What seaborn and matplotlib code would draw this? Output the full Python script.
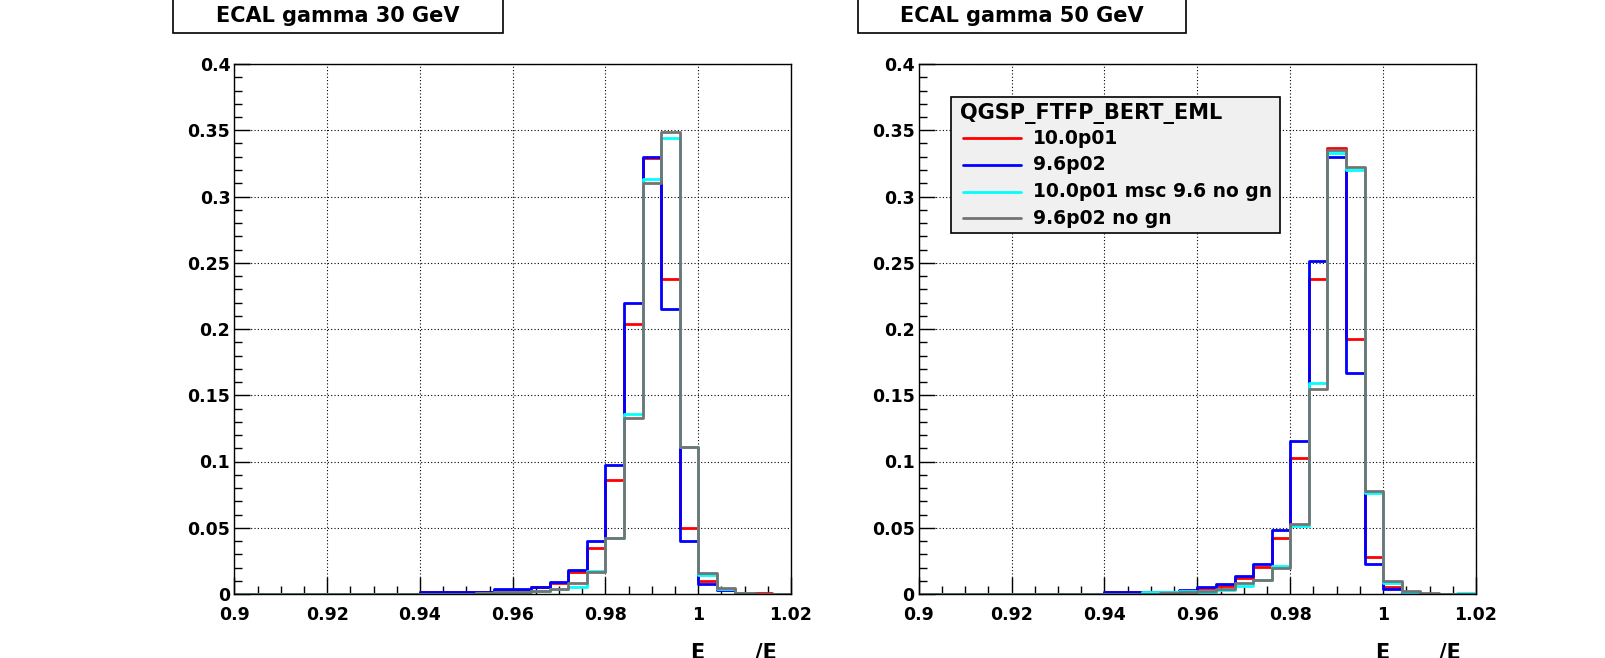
import numpy as np
import pandas as pd
import matplotlib
matplotlib.use("Agg")
import matplotlib.pyplot as plt
import seaborn as sns
from matplotlib.patches import Rectangle
from matplotlib.lines import Line2D
from matplotlib.ticker import MultipleLocator

# ---------------- data ----------------
bin_low, bin_high, n_bins = 0.9, 1.02, 30

series_names = ["10.0p01", "9.6p02", "10.0p01 msc 9.6 no gn", "9.6p02 no gn"]
series_colors = ["#ff0000", "#0000ff", "#00ffff", "#737373"]
legend_header = "QGSP_FTFP_BERT_EML"
panel_titles = ["ECAL gamma 30 GeV", "ECAL gamma 50 GeV"]

# 30 GeV panel
red_30 = [0, 0, 0, 0, 0, 0, 0, 0, 0, 0,
          0.0015, 0.0015, 0.0015, 0.0015, 0.003, 0.003, 0.005, 0.008, 0.0165, 0.035,
          0.086, 0.204, 0.329, 0.238, 0.050, 0.010, 0.003, 0.001, 0.0005, 0]
blue_30 = [0, 0, 0, 0, 0, 0, 0, 0, 0, 0,
           0.0017, 0.0017, 0.0017, 0.0017, 0.0035, 0.0035, 0.0055, 0.009, 0.018, 0.040,
           0.097, 0.220, 0.330, 0.215, 0.040, 0.0075, 0.003, 0.0005, 0, 0]
cyan_30 = [0, 0, 0, 0, 0.0003, 0, 0, 0, 0, 0,
           0, 0, 0, 0.0005, 0.0012, 0.0015, 0.0025, 0.004, 0.0055, 0.017,
           0.042, 0.1356, 0.313, 0.344, 0.111, 0.014, 0.004, 0.001, 0, 0]
gray_30 = [0, 0, 0, 0, 0, 0, 0, 0, 0, 0,
           0, 0, 0, 0.0005, 0.0012, 0.0015, 0.0023, 0.0037, 0.0081, 0.0165,
           0.042, 0.133, 0.310, 0.349, 0.111, 0.016, 0.0045, 0.001, 0, 0]

# 50 GeV panel
red_50 = [0, 0, 0, 0, 0, 0, 0, 0, 0, 0,
          0.0015, 0.0015, 0.0015, 0.0015, 0.0025, 0.0045, 0.006, 0.0118, 0.0206, 0.042,
          0.1025, 0.238, 0.3366, 0.1925, 0.0278, 0.0053, 0.0012, 0, 0, 0]
blue_50 = [0.0003, 0, 0, 0, 0, 0, 0, 0, 0, 0,
           0.0018, 0.0018, 0.0018, 0.0018, 0.003, 0.0055, 0.0073, 0.0136, 0.0224, 0.0486,
           0.1155, 0.2514, 0.330, 0.167, 0.023, 0.004, 0.001, 0, 0, 0]
cyan_50 = [0, 0, 0, 0, 0, 0, 0, 0, 0, 0,
           0, 0, 0.0012, 0.0012, 0.002, 0.001, 0.003, 0.006, 0.0106, 0.0214,
           0.0516, 0.159, 0.333, 0.320, 0.076, 0.0085, 0.0015, 0, 0, 0.0005]
gray_50 = [0, 0, 0, 0, 0, 0, 0, 0, 0, 0,
           0, 0, 0, 0.0008, 0.0015, 0.0025, 0.004, 0.0085, 0.0106, 0.020,
           0.053, 0.155, 0.3353, 0.322, 0.078, 0.0098, 0.002, 0.001, 0, 0]

x_ticks = [0.9, 0.92, 0.94, 0.96, 0.98, 1.0, 1.02]
x_tick_labels = ["0.9", "0.92", "0.94", "0.96", "0.98", "1", "1.02"]
y_ticks = [0, 0.05, 0.1, 0.15, 0.2, 0.25, 0.3, 0.35, 0.4]
y_tick_labels = ["0", "0.05", "0.1", "0.15", "0.2", "0.25", "0.3", "0.35", "0.4"]
x_label_parts = ["E", "/E"]   # only the upper part of the axis title is visible

# ---------------- style ----------------
sns.set_theme(style="white")
plt.rcParams["font.family"] = ["DejaVu Sans"]
plt.rcParams["font.weight"] = "bold"
for key in ["text.color", "axes.labelcolor", "xtick.color", "ytick.color", "axes.edgecolor"]:
    plt.rcParams[key] = "black"

W, H = 1606, 658
fig = plt.figure(figsize=(W / 100, H / 100), dpi=100)
fig.patch.set_facecolor("white")


def fx(p):
    return p / W


def fy(p):
    return 1 - p / H


ax_top, ax_bot = 64, 594
axL = fig.add_axes([fx(234.5), fy(ax_bot), (791 - 234.5) / W, (ax_bot - ax_top) / H])
axR = fig.add_axes([fx(918.7), fy(ax_bot), (1476 - 918.7) / W, (ax_bot - ax_top) / H])

edges = np.linspace(bin_low, bin_high, n_bins + 1)

panels = [
    (axL, [red_30, blue_30, cyan_30, gray_30]),
    (axR, [red_50, blue_50, cyan_50, gray_50]),
]

for ax, data in panels:
    ax.set_facecolor("white")
    for vals, color in zip(data, series_colors):
        # step outline of the histogram: value held from each bin's low edge
        df = pd.DataFrame({"edge": edges, "value": list(vals) + [vals[-1]]})
        sns.lineplot(data=df, x="edge", y="value", drawstyle="steps-post",
                     color=color, linewidth=2.0, ax=ax, estimator=None)
    ax.set_xlim(bin_low, bin_high)
    ax.set_ylim(0, 0.4)
    ax.set_xticks(x_ticks)
    ax.set_xticklabels(x_tick_labels, fontsize=12.5, fontweight="bold", color="black")
    ax.set_yticks(y_ticks)
    ax.set_yticklabels(y_tick_labels, fontsize=12.5, fontweight="bold", color="black")
    ax.xaxis.set_minor_locator(MultipleLocator(0.005))
    ax.yaxis.set_minor_locator(MultipleLocator(0.01))
    ax.tick_params(axis="x", which="major", direction="in", length=12, width=1,
                   color="black", pad=9, bottom=True, top=False)
    ax.tick_params(axis="x", which="minor", direction="in", length=6, width=1,
                   color="black", bottom=True, top=False)
    ax.tick_params(axis="y", which="major", direction="in", length=11.5, width=1,
                   color="black", pad=3, left=True, right=False)
    ax.tick_params(axis="y", which="minor", direction="in", length=5.5, width=1,
                   color="black", left=True, right=False)
    ax.grid(True, which="major", color="black", linestyle=(0, (1, 2)), linewidth=0.8)
    ax.set_axisbelow(True)
    ax.set_xlabel("")
    ax.set_ylabel("")
    for sp in ax.spines.values():
        sp.set_visible(True)
        sp.set_color("black")
        sp.set_linewidth(1.0)

# ---------------- titles in boxes ----------------
for (x0, x1), title in zip([(173, 503), (858, 1186)], panel_titles):
    fig.add_artist(Rectangle((fx(x0), fy(33)), (x1 - x0) / W, 45 / H,
                             transform=fig.transFigure, facecolor="white",
                             edgecolor="black", linewidth=1.2, zorder=5))
    fig.text(fx((x0 + x1) / 2), fy(21.7), title, ha="center", va="baseline",
             fontsize=15, fontweight="bold", zorder=6)

# ---------------- x axis titles (cut at the bottom edge, as in the original) ----------------
for x_e, x_slash in [(690, 777), (1375, 1461)]:
    fig.text(fx(x_e), fy(643), x_label_parts[0], ha="left", va="top",
             fontsize=15, fontweight="bold")
    fig.text(fx(x_slash), fy(643), x_label_parts[1], ha="right", va="top",
             fontsize=15, fontweight="bold")

# ---------------- legend ----------------
lg_l, lg_t, lg_r, lg_b = 951, 97, 1280, 233
fig.add_artist(Rectangle((fx(lg_l), fy(lg_b)), (lg_r - lg_l) / W, (lg_b - lg_t) / H,
                         transform=fig.transFigure, facecolor="#f0f0f0",
                         edgecolor="black", linewidth=1.2, zorder=5))
fig.text(fx(960), fy(119.3), legend_header, ha="left", va="baseline",
         fontsize=15, fontweight="bold", zorder=6)
row_y = [138.3, 165.0, 191.7, 218.3]
for yy, name, color in zip(row_y, series_names, series_colors):
    fig.add_artist(Line2D([fx(963), fx(1021)], [fy(yy), fy(yy)],
                          transform=fig.transFigure, color=color, linewidth=2.0, zorder=6))
    fig.text(fx(1033), fy(yy + 5.5), name, ha="left", va="baseline",
             fontsize=13.5, fontweight="bold", zorder=6)

fig.savefig("out.png", dpi=100, facecolor="white")
